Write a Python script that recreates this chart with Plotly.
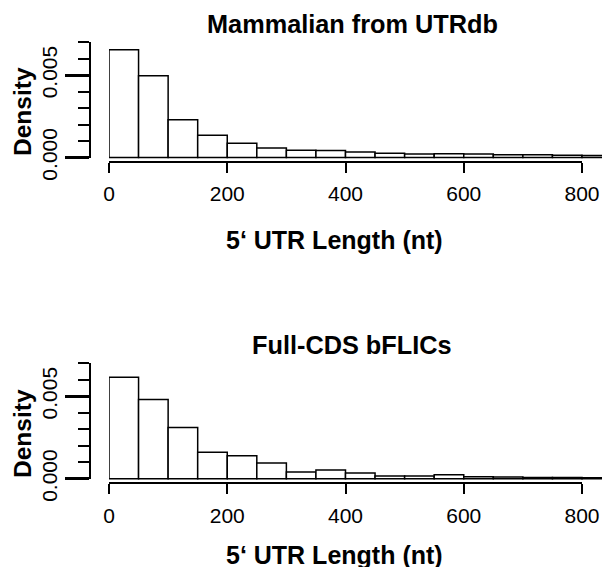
import plotly.graph_objects as go

# ---------------- data ----------------
bin_starts = [0, 50, 100, 150, 200, 250, 300, 350, 400, 450, 500, 550, 600, 650, 700, 750, 800]
bin_width = 50
mammalian_density = [0.00655, 0.00497, 0.00230, 0.00135, 0.00086, 0.00058, 0.00044, 0.00043,
                     0.00033, 0.00026, 0.00021, 0.00023, 0.00022, 0.00017, 0.00016, 0.00014, 0.00012]
bflic_density = [0.00615, 0.00480, 0.00311, 0.00160, 0.00139, 0.00096, 0.00041, 0.00053,
                 0.00034, 0.00016, 0.00016, 0.00024, 0.00012, 0.00010, 0.00008, 0.00007, 0.00006]
panel_titles = ["Mammalian from UTRdb", "Full-CDS bFLICs"]
x_title = "5\u2018 UTR Length (nt)"
y_title = "Density"

# ---------------- layout geometry (pixels) ----------------
W, H = 602, 567
X0_PX, X800_PX = 109.0, 582.0
px_per_x = (X800_PX - X0_PX) / 800.0
x_data_max = (W - X0_PX) / px_per_x

FONT = "Liberation Sans, Arial, Helvetica, sans-serif"

panels = [
    dict(y0=157.5, y7=42.3, xline=162.0, title_y=24, xtitle_y=240, ytitle_y=112),
    dict(y0=478.7, y7=363.3, xline=483.3, title_y=345, xtitle_y=555, ytitle_y=434),
]

def py(px):
    return 1 - px / H

fig = go.Figure()
layout = dict(
    template="none",
    width=W, height=H, margin=dict(l=0, r=0, t=0, b=0, pad=0), autosize=False,
    paper_bgcolor="white", plot_bgcolor="rgba(0,0,0,0)",
    showlegend=False, annotations=[],
    font=dict(family=FONT, color="black"),
)

series = [mammalian_density, bflic_density]
for i, p in enumerate(panels):
    n = 2 * i + 1
    xd, yd, xa, ya = f"x{'' if n == 1 else n}", f"y{'' if n == 1 else n}", f"x{n+1}", f"y{n+1}"
    xdk, ydk, xak, yak = xd.replace("x", "xaxis"), yd.replace("y", "yaxis"), xa.replace("x", "xaxis"), ya.replace("y", "yaxis")
    ppu = (p["y0"] - p["y7"]) / 0.007
    yd_lo, yd_hi = -0.0004, 0.00701
    ya_lo, ya_hi = 0.0, 0.00701

    fig.add_trace(go.Bar(
        x=bin_starts, y=series[i], width=bin_width, offset=0,
        marker=dict(color="white", line=dict(color="black", width=1.5)),
        xaxis=xd, yaxis=yd, hoverinfo="skip",
    ))
    fig.add_trace(go.Scatter(x=[None], y=[None], xaxis=xa, yaxis=ya, hoverinfo="skip", mode="markers"))

    layout[xdk] = dict(domain=[X0_PX / W, 1.0], range=[0, x_data_max], visible=False, anchor=yd,
                       automargin=False)
    layout[ydk] = dict(domain=[py(p["y0"] - yd_lo * ppu), py(p["y0"] - yd_hi * ppu)],
                       range=[yd_lo, yd_hi], visible=False, anchor=xd, automargin=False)
    layout[xak] = dict(
        domain=[X0_PX / W, X800_PX / W], range=[0, 800], anchor="free", position=py(p["xline"]),
        showline=True, linecolor="black", linewidth=2, ticks="outside", ticklen=10, tickwidth=2,
        tickcolor="black", tick0=0, dtick=200, showgrid=False, zeroline=False, automargin=False,
        tickfont=dict(size=21, family=FONT, color="black"), ticklabelstandoff=3,
    )
    layout[yak] = dict(
        domain=[py(p["y0"] - ya_lo * ppu), py(p["y0"] - ya_hi * ppu)], range=[ya_lo, ya_hi],
        anchor="free", position=90 / W, automargin=False,
        showline=True, linecolor="black", linewidth=2, ticks="outside", ticklen=24, tickwidth=3,
        tickcolor="black", tick0=0, dtick=0.005, tickformat=".3f", tickangle=-90,
        showgrid=False, zeroline=False, tickfont=dict(size=21, family=FONT, color="black"),
        minor=dict(ticks="outside", ticklen=11, tickwidth=1.5, tickcolor="black", tick0=0, dtick=0.001,
                   showgrid=False),
    )
    layout["annotations"] += [
        dict(text=f"<b>{panel_titles[i]}</b>", x=352 / W, y=py(p["title_y"]), xref="paper", yref="paper",
             showarrow=False, xanchor="center", yanchor="middle", font=dict(size=25.3, family=FONT)),
        dict(text=f"<b>{x_title}</b>", x=334 / W, y=py(p["xtitle_y"]), xref="paper", yref="paper",
             showarrow=False, xanchor="center", yanchor="middle", font=dict(size=25, family=FONT)),
        dict(text=f"<b>{y_title}</b>", x=22 / W, y=py(p["ytitle_y"]), xref="paper", yref="paper",
             showarrow=False, xanchor="center", yanchor="middle", textangle=-90,
             font=dict(size=24.5, family=FONT)),
    ]

fig.update_layout(**layout)
fig.write_html("out.html", config={"displayModeBar": False},
               post_script="document.body.style.margin='0px';document.body.style.overflow='hidden';")
